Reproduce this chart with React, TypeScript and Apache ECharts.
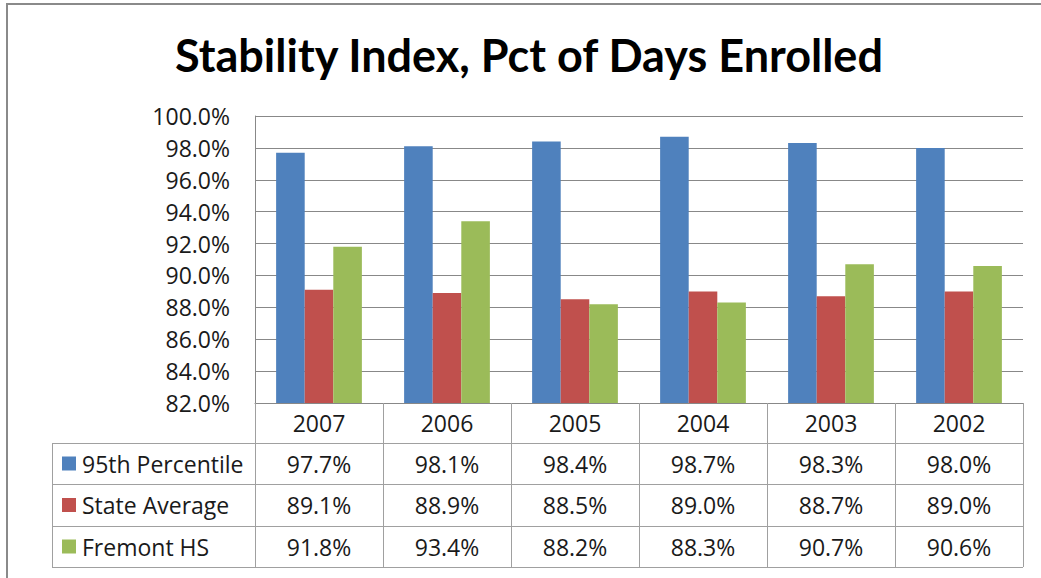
import React, { useEffect, useRef } from 'react';
import * as echarts from 'echarts';

const TITLE = 'Stability Index, Pct of Days Enrolled';
const YEARS = ['2007', '2006', '2005', '2004', '2003', '2002'];
const SERIES_NAMES = ['95th Percentile', 'State Average', 'Fremont HS'];
const P95 = [97.7, 98.1, 98.4, 98.7, 98.3, 98.0];
const STATE_AVG = [89.1, 88.9, 88.5, 89.0, 88.7, 89.0];
const FREMONT = [91.8, 93.4, 88.2, 88.3, 90.7, 90.6];
const COLORS = ['#4F81BD', '#C0504D', '#9BBB59'];
const Y_MIN = 82;
const Y_MAX = 100;
const Y_STEP = 2;

const FONT = '"Open Sans", "Noto Sans", sans-serif';
const FS = 23;
const TEXT = '#1a1a1a';
const LINE = '#a0a0a0';

export default function App() {
  const ref = useRef<HTMLDivElement>(null);
  useEffect(() => {
    document.body.style.margin = '0';
    if (!ref.current) return;
    const chart = echarts.init(ref.current, undefined, { renderer: 'svg' });
    const seriesData = [P95, STATE_AVG, FREMONT];
    chart.setOption({
      animation: false,
      backgroundColor: '#ffffff',
      grid: { left: 255, right: 18, top: 116, bottom: 175, containLabel: false },
      xAxis: {
        type: 'category',
        data: YEARS,
        axisLine: { show: true, lineStyle: { color: '#888888', width: 1 } },
        axisTick: { show: true, alignWithLabel: false, length: 40, lineStyle: { color: LINE } },
        axisLabel: { fontSize: FS, fontFamily: FONT, color: TEXT, margin: 8 },
        splitLine: { show: false },
      },
      yAxis: {
        type: 'value',
        min: Y_MIN,
        max: Y_MAX,
        interval: Y_STEP,
        axisLine: { show: true, lineStyle: { color: '#888888' } },
        axisTick: { show: false },
        axisLabel: {
          fontSize: FS,
          fontFamily: FONT,
          color: TEXT,
          margin: 25,
          formatter: (v: number) => v.toFixed(1) + '%',
        },
        splitLine: { show: true, lineStyle: { color: '#888888', width: 1 } },
      },
      series: SERIES_NAMES.map((name, i) => ({
        name,
        type: 'bar',
        data: seriesData[i],
        barGap: '0%',
        barCategoryGap: '33%',
        itemStyle: { color: COLORS[i] },
      })),
    });

    const centers = YEARS.map((y) => chart.convertToPixel({ xAxisIndex: 0 }, y) as number);
    const band = centers[1] - centers[0];
    const colLeft = centers[0] - band / 2;
    const colRight = centers[centers.length - 1] + band / 2;
    const tableLeft = 52;
    const rowTops = [443, 484, 526, 567];
    const px = (v: number) => Math.round(v) + 0.5;

    const g: any[] = [];
    // outer frame
    g.push({ type: 'line', shape: { x1: 6, y1: 4, x2: 1041, y2: 4 }, style: { stroke: '#8a8a8a', lineWidth: 2 } });
    g.push({ type: 'line', shape: { x1: 7, y1: 3, x2: 7, y2: 578 }, style: { stroke: '#8a8a8a', lineWidth: 2 } });
    // title
    g.push({
      type: 'text',
      x: 529,
      y: 55,
      style: {
        text: TITLE,
        font: `bold 45px Lato, "Open Sans", sans-serif`,
        fill: '#000000',
        align: 'center',
        verticalAlign: 'middle',
        textAlign: 'center',
        textVerticalAlign: 'middle',
      },
    });
    // horizontal table lines
    rowTops.forEach((y) => {
      g.push({ type: 'line', shape: { x1: tableLeft, y1: px(y), x2: colRight, y2: px(y) }, style: { stroke: LINE, lineWidth: 1 } });
    });
    // vertical table lines
    g.push({ type: 'line', shape: { x1: px(tableLeft), y1: rowTops[0], x2: px(tableLeft), y2: rowTops[3] }, style: { stroke: LINE, lineWidth: 1 } });
    for (let i = 0; i <= YEARS.length; i++) {
      const x = px(colLeft + band * i);
      g.push({ type: 'line', shape: { x1: x, y1: rowTops[0], x2: x, y2: rowTops[3] }, style: { stroke: LINE, lineWidth: 1 } });
    }
    // row labels and values
    SERIES_NAMES.forEach((name, r) => {
      const cy = (rowTops[r] + rowTops[r + 1]) / 2;
      g.push({ type: 'rect', shape: { x: 62, y: cy - 7, width: 14, height: 14 }, style: { fill: COLORS[r] } });
      g.push({
        type: 'text',
        x: 82,
        y: cy,
        style: { text: name, font: `${FS}px ${FONT}`, fill: TEXT, align: 'left', verticalAlign: 'middle', textAlign: 'left', textVerticalAlign: 'middle' },
      });
      seriesData[r].forEach((v, c) => {
        g.push({
          type: 'text',
          x: centers[c],
          y: cy,
          style: { text: v.toFixed(1) + '%', font: `${FS}px ${FONT}`, fill: TEXT, align: 'center', verticalAlign: 'middle', textAlign: 'center', textVerticalAlign: 'middle' },
        });
      });
    });
    chart.setOption({ graphic: g });

    return () => chart.dispose();
  }, []);
  return <div ref={ref} style={{ width: 1041, height: 578 }} />;
}
